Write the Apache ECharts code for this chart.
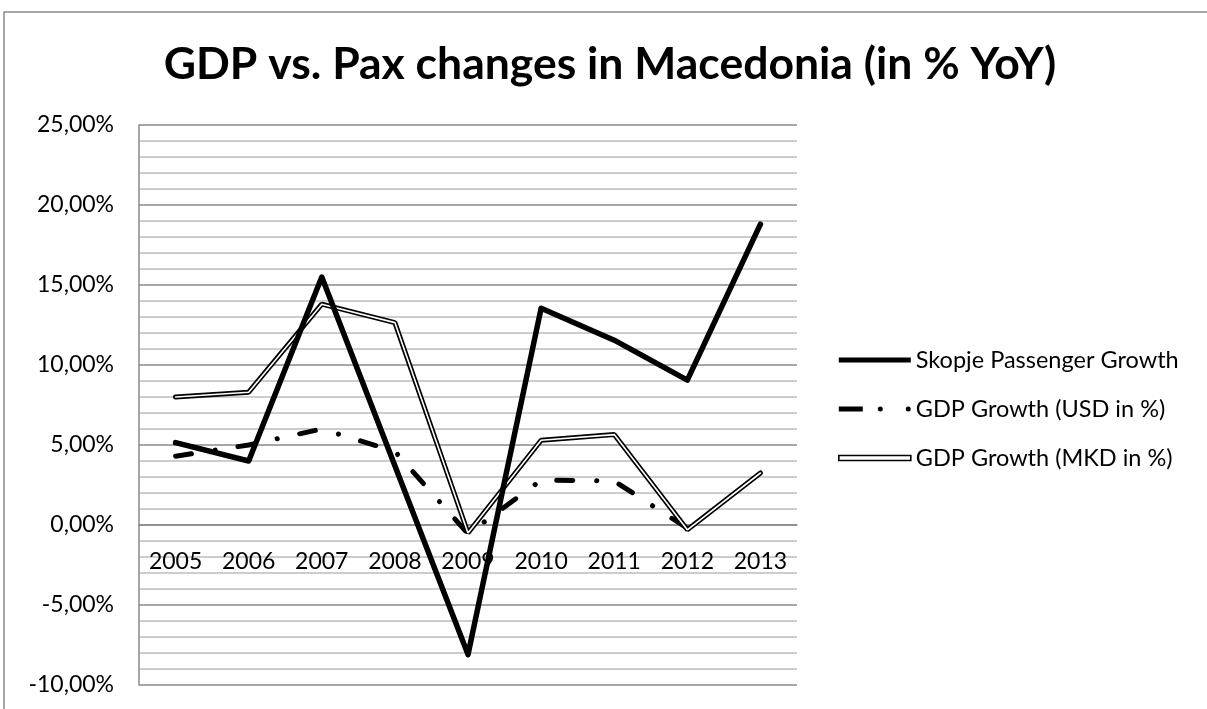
<!DOCTYPE html>
<html>
<head>
<meta charset="utf-8">
<style>
  html, body { margin: 0; padding: 0; background: #fff; }
  #chart { width: 1207px; height: 709px; }
</style>
<script src="https://cdn.jsdelivr.net/npm/echarts@6/dist/echarts.min.js"></script>
</head>
<body>
<div id="chart"></div>
<script>
// Years on the horizontal axis
const years = ['2005', '2006', '2007', '2008', '2009', '2010', '2011', '2012', '2013'];

// Year-on-year changes, in percent
const skopjePax = [5.15, 4.0, 15.5, 3.7, -8.1, 13.55, 11.55, 9.05, 18.8];
const gdpUsd    = [4.3, 5.0, 6.0, 4.6, -0.55, 2.8, 2.75, -0.2, null];
const gdpMkd    = [8.0, 8.3, 13.8, 12.65, -0.5, 5.3, 5.65, -0.3, 3.25];

// Series names shown in the legend
const seriesNames = ['Skopje Passenger Growth', 'GDP Growth (USD in %)', 'GDP Growth (MKD in %)'];

const FONT = 'Lato, "Open Sans", sans-serif';

// Plot area edges (px) and value range
const PLOT_TOP = 125, PLOT_BOTTOM = 685;
const Y_MIN = -10, Y_MAX = 25;
// distance from the plot's bottom edge up to the 0 % line, so the year axis sits on zero
const zeroOffset = (PLOT_BOTTOM - PLOT_TOP) * (0 - Y_MIN) / (Y_MAX - Y_MIN);

const chart = echarts.init(document.getElementById('chart'), null, { renderer: 'canvas' });

chart.setOption({
  backgroundColor: '#ffffff',
  animation: false,
  title: {
    text: 'GDP vs. Pax changes in Macedonia (in % YoY)',
    left: 605,
    top: 37,
    textAlign: 'center',
    textStyle: { fontFamily: FONT, fontWeight: 'bold', fontSize: 44.5, color: '#000' }
  },
  graphic: [{
    // chart-area frame
    type: 'rect',
    shape: { x: 4, y: 12, width: 1400, height: 900 },
    style: { fill: 'none', stroke: '#8a8a8a', lineWidth: 1.5 },
    silent: true
  }],
  legend: {
    orient: 'vertical',
    left: 833,
    top: 343,
    itemWidth: 72,
    itemHeight: 6,
    itemGap: 25,
    selectedMode: false,
    textStyle: { fontFamily: FONT, fontSize: 23.5, color: '#000' },
    data: [
      { name: seriesNames[0], icon: 'path://M0,0.5H72V5.5H0Z',
        itemStyle: { color: '#000', borderWidth: 0 } },
      { name: seriesNames[1],
        icon: 'path://M0,0.5H24V5.5H0Z M39,3 a2.5,2.5 0 1,0 5,0 a2.5,2.5 0 1,0 -5,0 Z M67,3 a2.5,2.5 0 1,0 5,0 a2.5,2.5 0 1,0 -5,0 Z',
        itemStyle: { color: '#000', borderWidth: 0 } },
      { name: seriesNames[2], icon: 'path://M0,0.5H72V5.5H0Z',
        itemStyle: { color: '#fff', borderColor: '#000', borderWidth: 1.6 } }
    ]
  },
  grid: {
    left: 139, right: 410, top: PLOT_TOP, bottom: 709 - PLOT_BOTTOM,
    containLabel: false, outerBoundsMode: 'none'
  },
  xAxis: {
    type: 'category',
    data: years,
    boundaryGap: true,
    position: 'bottom',
    offset: -zeroOffset,
    axisLine: { show: true, onZero: false, lineStyle: { color: '#8a8a8a', width: 1.5 } },
    axisTick: { show: false },
    axisLabel: { margin: 25, fontFamily: FONT, fontSize: 23, color: '#000' },
    splitLine: { show: false }
  },
  yAxis: {
    type: 'value',
    min: Y_MIN,
    max: Y_MAX,
    interval: 5,
    axisLine: { show: true, lineStyle: { color: '#8a8a8a', width: 1.5 } },
    axisTick: { show: false },
    axisLabel: {
      margin: 25,
      fontFamily: FONT, fontSize: 23, color: '#000',
      formatter: v => v.toFixed(2).replace('.', ',') + '%'
    },
    splitLine: { show: true, lineStyle: { color: '#8a8a8a', width: 1.5 } },
    minorTick: { show: false, splitNumber: 5 },
    minorSplitLine: { show: true, lineStyle: { color: '#bdbdbd', width: 1.5 } }
  },
  series: [
    {
      name: seriesNames[0],
      type: 'line',
      data: skopjePax,
      z: 5,
      symbol: 'none',
      lineStyle: { color: '#000', width: 5.5, cap: 'round', join: 'round' },
      itemStyle: { color: '#000' }
    },
    {
      name: seriesNames[1],
      type: 'line',
      data: gdpUsd,
      z: 3,
      symbol: 'none',
      lineStyle: { color: '#000', width: 5, type: [16, 24, 0.1, 23], cap: 'round', join: 'round' },
      itemStyle: { color: '#000' }
    },
    {
      name: seriesNames[2],
      type: 'line',
      data: gdpMkd,
      z: 4,
      symbol: 'none',
      lineStyle: { color: '#000', width: 5, cap: 'round' },
      itemStyle: { color: '#000' }
    },
    {
      // white core that turns the MKD line into a double line
      name: 'MKD core',
      type: 'line',
      data: gdpMkd,
      z: 4,
      symbol: 'none',
      lineStyle: { color: '#fff', width: 1.6, cap: 'round' },
      itemStyle: { color: '#fff' },
      silent: true
    }
  ]
});
</script>
</body>
</html>
